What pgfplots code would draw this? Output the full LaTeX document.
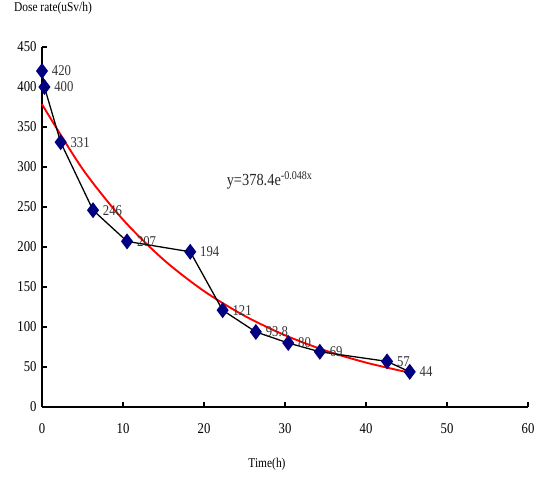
\documentclass[border=0pt]{standalone}
\usepackage{fontspec}
\setmainfont[FakeStretch=0.85]{Liberation Serif}
\usepackage{pgfplots}
\pgfplotsset{compat=1.18}
\definecolor{navyblue}{RGB}{0,0,128}
\begin{document}
\begin{tikzpicture}[x=1bp,y=1bp]
\useasboundingbox (-42bp,-74bp) rectangle (497bp,407bp);
\begin{axis}[
  at={(0,0)}, anchor=south west,
  scale only axis, width=486bp, height=360bp,
  xmin=0, xmax=60, ymin=0, ymax=450,
  xtick={0,10,...,60}, ytick={0,50,...,450},
  axis x line=bottom, axis y line=left,
  axis line style={line width=1.8pt,-},
  tick style={line width=1.3pt, black},
  tick align=inside, major tick length=5bp,
  /pgf/number format/assume math mode=true,
  tick label style={font=\fontsize{15}{15}\selectfont},
  xticklabel style={yshift=-13bp},
  yticklabel style={xshift=-2bp},
  clip=false,
]
\addplot[red, line width=1.9pt, smooth] coordinates {
(0,378.4) (5,297.7) (10,234.2) (15,184.2) (20,144.9) (25,114.0)
(30,89.7) (35,70.5) (40,55.5) (45.4,42.8)};
\addplot[black, line width=1.3pt, mark=diamond*, mark size=7pt,
  mark options={fill=navyblue, draw=navyblue},
  nodes near coords, point meta=explicit symbolic,
  every node near coord/.append style={anchor=west, xshift=6bp, yshift=0bp,
    font=\fontsize{15}{15}\selectfont, text=black!80}]
coordinates {
(0,420) [420]
(0.3,400) [400]
(2.3,331) [331]
(6.3,246) [246]
(10.5,207) [207]
(18.3,194) [194]
(22.3,121) [121]
(26.4,93.8) [93.8]
(30.4,80) [80]
(34.3,69) [69]
(42.6,57) [57]
(45.4,44) [44]
};
\node[font=\fontsize{17}{17}\selectfont, anchor=west, text=black!85] at (rel axis cs:0.373,0.63) {y=378.4e\textsuperscript{-0.048x}};
\end{axis}
\node[font=\fontsize{13.5}{13.5}\selectfont] at (11bp,399bp) {Dose rate(uSv/h)};
\node[font=\fontsize{13.5}{13.5}\selectfont] at (225bp,-57bp) {Time(h)};
\end{tikzpicture}
\end{document}
